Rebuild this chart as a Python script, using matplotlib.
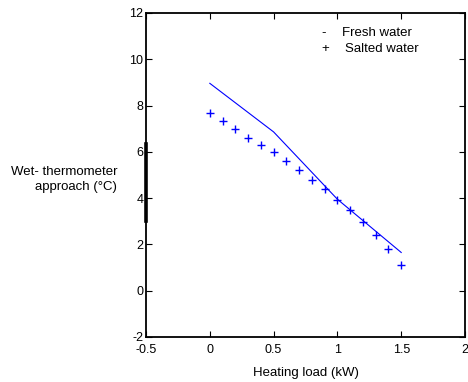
import matplotlib
matplotlib.use('Agg')
import matplotlib.pyplot as plt

plt.rcParams['font.family'] = ['Liberation Sans', 'DejaVu Sans']
plt.rcParams['axes.unicode_minus'] = False

# fresh water (line)
fresh_load = [0.0, 0.5, 1.0, 1.5]
fresh_approach = [8.96, 6.86, 3.95, 1.65]

# salted water (+ markers)
salt_load = [0.0, 0.1, 0.2, 0.3, 0.4, 0.5, 0.6, 0.7, 0.8, 0.9,
             1.0, 1.1, 1.2, 1.3, 1.4, 1.5]
salt_approach = [7.66, 7.34, 6.97, 6.60, 6.30, 5.98, 5.59, 5.20, 4.80, 4.41,
                 3.93, 3.47, 2.97, 2.39, 1.80, 1.13]

xticks = [-0.5, 0, 0.5, 1, 1.5, 2]
xtick_labels = ['-0.5', '0', '0.5', '1', '1.5', '2']
yticks = [-2, 0, 2, 4, 6, 8, 10, 12]

fig = plt.figure(figsize=(4.68, 3.82), dpi=100)
ax = fig.add_axes([0.312, 0.118, 0.6816, 0.848])

ax.plot(fresh_load, fresh_approach, color='#0000ff', linewidth=0.8)
ax.plot(salt_load, salt_approach, linestyle='none', marker='+',
        color='#0000ff', markersize=5.5, markeredgewidth=1.0)

ax.set_xlim(-0.5, 2)
ax.set_ylim(-2, 12)
ax.set_xticks(xticks)
ax.set_xticklabels(xtick_labels)
ax.set_yticks(yticks)
ax.tick_params(direction='in', length=4, width=0.8, top=True, right=True,
               labelsize=9)
ax.tick_params(axis='x', pad=5)
ax.tick_params(axis='y', pad=2)
for s in ax.spines.values():
    s.set_linewidth(1.3)

# thick mark on the left spine, as in the original image
ax.plot([-0.5, -0.5], [3.0, 6.33], color='black', linewidth=2.6,
        clip_on=False, transform=ax.transData)

ax.set_xlabel('Heating load (kW)', fontsize=9.5, labelpad=8)
ax.text(-0.09, 0.486, 'Wet- thermometer\napproach (\u00b0C)', transform=ax.transAxes,
        ha='right', va='center', fontsize=9.5, multialignment='right',
        linespacing=1.3)

# text legend without a box
ax.text(0.549, 0.938, '-', transform=ax.transAxes, fontsize=9.5, va='center')
ax.text(0.613, 0.938, 'Fresh water', transform=ax.transAxes, fontsize=9.5, va='center')
ax.text(0.549, 0.889, '+', transform=ax.transAxes, fontsize=9.5, va='center')
ax.text(0.624, 0.889, 'Salted water', transform=ax.transAxes, fontsize=9.5, va='center')

fig.savefig('out.png', dpi=100)
